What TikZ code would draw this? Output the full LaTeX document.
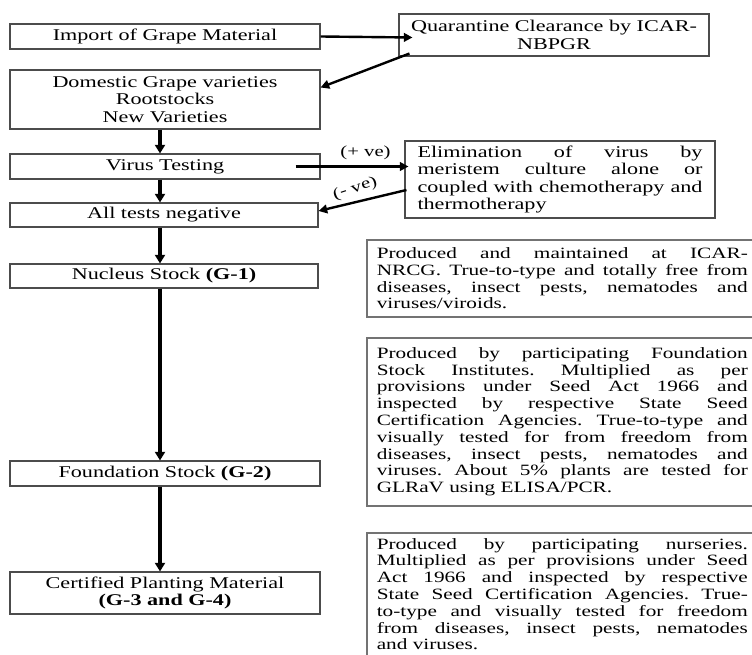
\documentclass[tikz,border=0pt]{standalone}
\usepackage{fontspec}
\setmainfont{Liberation Serif}[FakeStretch=1.35]
\usetikzlibrary{arrows.meta,calc}

\tikzset{
  box/.style={draw=black!70, line width=0.8pt, minimum width=232.5pt, minimum height=18.75pt,
    inner sep=0pt, align=center, font=\fontsize{12.3}{13.1}\selectfont},
  notebox/.style={draw=black!55, line width=1.2pt, anchor=north west, text width=278.25pt,
    inner xsep=7.5pt, inner ysep=5pt, align=justify, font=\fontsize{11.8}{12.6}\selectfont\frenchspacing},
  flow/.style={line width=3pt, -{Triangle[length=6.5pt,width=7.5pt]}},
  link/.style={line width=1.8pt, -{Triangle[length=6.5pt,width=6.5pt]}},
  tag/.style={font=\fontsize{11.5}{12}\selectfont, inner sep=1pt}
}

\begin{document}
\begin{tikzpicture}[x=0.75pt,y=0.75pt,yscale=-1,xscale=1]
\useasboundingbox (0,0) rectangle (752,655);
\clip (0,0) rectangle (752,655);

% left column
\node[box] (imp) at (165,36.5) {Import of Grape Material};
\node[box, minimum height=44.25pt] (dom) at (165,99.5) {Domestic Grape varieties\\Rootstocks\\New Varieties};
\node[box] (virus) at (165,166.5) {Virus Testing};
\node[box, minimum width=231pt, minimum height=18pt] (neg) at (164,215) {All tests negative};
\node[box, minimum width=231pt, minimum height=18pt] (nuc) at (164,276) {Nucleus Stock \textbf{(G-1)}};
\node[box] (found) at (165,473.5) {Foundation Stock \textbf{(G-2)}};
\node[box, minimum height=31.5pt] (cert) at (165,593) {Certified Planting Material\\\textbf{(G-3 and G-4)}};

% right column
\node[box, minimum height=31.5pt] (quar) at (554,35) {Quarantine Clearance by ICAR-\\NBPGR};
\node[box, minimum height=57.75pt, text width=213.75pt, align=justify] (elim) at (560,179.5)
  {Elimination of virus by\linebreak meristem culture alone or\linebreak coupled with chemotherapy and\linebreak thermotherapy};

% notes
\node[notebox, minimum height=57.75pt] (noteA) at (366,239)
  {Produced and maintained at ICAR-\linebreak NRCG. True-to-type and totally free from\linebreak
   diseases, insect pests, nematodes and\linebreak viruses/viroids.};
\node[notebox, minimum height=126pt] (noteB) at (366,337)
  {Produced by participating Foundation\linebreak Stock Institutes. Multiplied as per\linebreak
   provisions under Seed Act 1966 and\linebreak inspected by respective State Seed\linebreak
   Certification Agencies. True-to-type and\linebreak visually tested for from freedom from\linebreak
   diseases, insect pests, nematodes and\linebreak viruses. About 5\% plants are tested for\linebreak
   GLRaV using ELISA/PCR.};
\node[notebox, inner ysep=4pt] (noteC) at (366,532)
  {Produced by participating nurseries.\linebreak Multiplied as per provisions under Seed\linebreak
   Act 1966 and inspected by respective\linebreak State Seed Certification Agencies. True-\linebreak
   to-type and visually tested for freedom\linebreak from diseases, insect pests, nematodes\linebreak
   and viruses.};

% connectors
\draw[link] (imp.east) -- ($(quar.west |- imp.east)+(14,1)$);
\draw[link] ($(quar.south west)+(11,-3)$) -- ($(dom.east)+(0,-12)$);
\draw[flow] ($(dom.south)+(-5,0)$) -- ($(virus.north)+(-5,0)$);
\draw[link] ($(virus.east)+(-25,0)$) -- ($(elim.west |- virus.east)+(4,0)$)
  node[tag, pos=0.62, above=3pt] {(+ ve)};
\draw[link] ($(elim.west)+(2,10.5)$) -- ($(neg.east)+(0,-4)$)
  node[tag, pos=0.55, above=3pt, rotate=18] {(- ve)};
\draw[flow] ($(virus.south)+(-5,0)$) -- ($(neg.north)+(-4,0)$);
\draw[flow] ($(neg.south)+(-4,0)$) -- ($(nuc.north)+(-4,0)$);
\draw[flow] ($(nuc.south)+(-4,0)$) -- ($(found.north)+(-5,0)$);
\draw[flow] ($(found.south)+(-5,0)$) -- ($(cert.north)+(-5,0)$);

\end{tikzpicture}
\end{document}
